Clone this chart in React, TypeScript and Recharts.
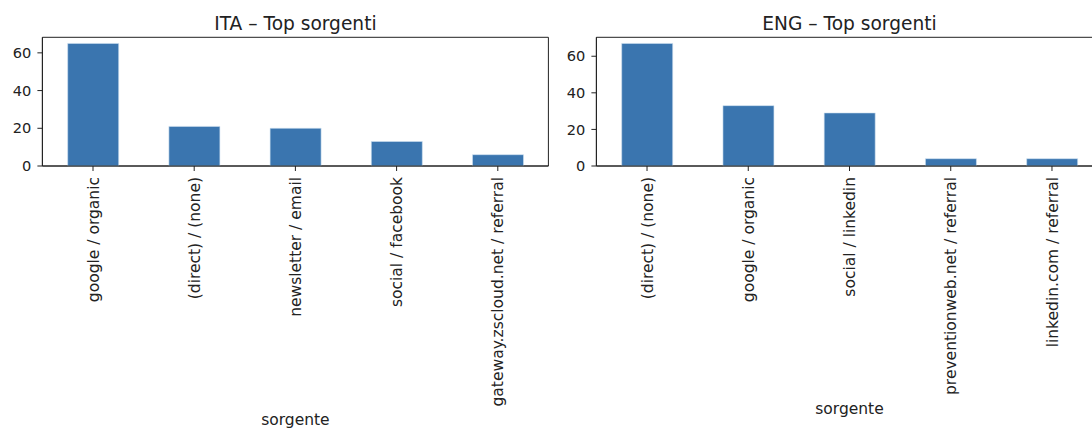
import React from "react";
import { BarChart, Bar, XAxis, YAxis, Label, ReferenceArea } from "recharts";

// sessioni per sorgente / mezzo
const itaSources = [
  "google / organic",
  "(direct) / (none)",
  "newsletter / email",
  "social / facebook",
  "gateway.zscloud.net / referral",
];
const itaSessions = [65, 21, 20, 13, 6];

const engSources = [
  "(direct) / (none)",
  "google / organic",
  "social / linkedin",
  "preventionweb.net / referral",
  "linkedin.com / referral",
];
const engSessions = [67, 33, 29, 4, 4];

const yTicks = [0, 20, 40, 60];

const BAR = "#3A75AF";
const INK = "#222222";
const FONT = "'DejaVu Sans', sans-serif";
const FS_X = 15.5;
const FS_Y = 14.6;
const FS_TITLE = 18.6;

type Row = { source: string; sessions: number };

const toRows = (sources: string[], values: number[]): Row[] =>
  sources.map((s, i) => ({ source: s, sessions: values[i] }));

function RotTick({ x, y, payload }: any) {
  return (
    <g transform={`translate(${x},${y})`}>
      <text
        transform="rotate(-90)"
        textAnchor="end"
        dy="0.36em"
        fontSize={FS_X}
        fontFamily={FONT}
        fill={INK}
      >
        {payload.value}
      </text>
    </g>
  );
}

function Panel({
  rows,
  left,
  width,
  yWidth,
  marginRight,
  labelOffset,
}: {
  rows: Row[];
  left: number;
  width: number;
  yWidth: number;
  marginRight: number;
  labelOffset: number;
}) {
  const maxV = Math.max(...rows.map((r) => r.sessions));
  const top = maxV * 1.05;
  return (
    <div style={{ position: "absolute", left, top: 0 }}>
      <BarChart
        width={width}
        height={429}
        data={rows}
        margin={{ top: 37.3, right: marginRight, left: 0, bottom: 0 }}
        barCategoryGap="25%"
      >
        <XAxis
          dataKey="source"
          interval={0}
          height={263}
          tickSize={5}
          tickMargin={6}
          tick={<RotTick />}
          tickLine={{ stroke: INK }}
          axisLine={{ stroke: INK }}
        >
          <Label
            value="sorgente"
            position="insideBottom"
            offset={labelOffset}
            fontSize={FS_X}
            fontFamily={FONT}
            fill={INK}
          />
        </XAxis>
        <YAxis
          type="number"
          domain={[0, top]}
          ticks={yTicks}
          width={yWidth}
          tickSize={5}
          tickMargin={6}
          tick={{ fontSize: FS_Y, fontFamily: FONT, fill: INK }}
          tickLine={{ stroke: INK }}
          axisLine={{ stroke: INK }}
        />
        <Bar
          dataKey="sessions"
          fill={BAR}
          stroke="#cfe0f0"
          strokeWidth={0.6}
          isAnimationActive={false}
        />
        {/* riquadro completo degli assi */}
        <ReferenceArea
          y1={0}
          y2={top}
          fill="none"
          fillOpacity={0}
          stroke={INK}
          strokeWidth={1}
        />
      </BarChart>
    </div>
  );
}

export default function App() {
  return (
    <div
      style={{
        position: "absolute",
        left: 0,
        top: 0,
        width: 1092,
        height: 429,
        background: "#fff",
        overflow: "hidden",
      }}
    >
      <Panel
        rows={toRows(itaSources, itaSessions)}
        left={0}
        width={552}
        yWidth={42.4}
        marginRight={3.6}
        labelOffset={4}
      />
      <Panel
        rows={toRows(engSources, engSessions)}
        left={552}
        width={560}
        yWidth={44.4}
        marginRight={9.4}
        labelOffset={15}
      />
      <svg
        width={1092}
        height={429}
        style={{ position: "absolute", left: 0, top: 0, pointerEvents: "none" }}
      >
        <text x={295.4} y={29.5} textAnchor="middle" fontSize={FS_TITLE} fontFamily={FONT} fill={INK}>
          ITA – Top sorgenti
        </text>
        <text x={849.5} y={29.5} textAnchor="middle" fontSize={FS_TITLE} fontFamily={FONT} fill={INK}>
          ENG – Top sorgenti
        </text>
      </svg>
    </div>
  );
}
